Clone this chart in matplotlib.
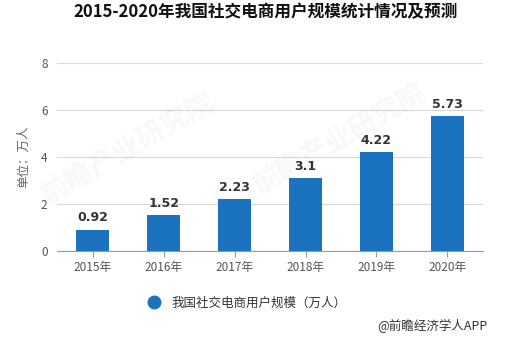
import matplotlib
matplotlib.use("Agg")
import matplotlib.pyplot as plt
from matplotlib.lines import Line2D

plt.rcParams['font.family'] = ['Noto Sans CJK SC', 'DejaVu Sans']

years = ["2015年", "2016年", "2017年", "2018年", "2019年", "2020年"]
users = [0.92, 1.52, 2.23, 3.1, 4.22, 5.73]
value_labels = ["0.92", "1.52", "2.23", "3.1", "4.22", "5.73"]
y_ticks = [0, 2, 4, 6, 8]

title = "2015-2020年我国社交电商用户规模统计情况及预测"
series_name = "我国社交电商用户规模（万人）"
unit_label = "单位：万人"
source = "@前瞻经济学人APP"
watermark = "前瞻产业研究院"

bar_color = "#1b72bf"
tick_color = "#555555"

fig = plt.figure(figsize=(5.3, 3.45), dpi=100)
ax = fig.add_axes([0.108, 0.272, 0.803, 0.545])

x = list(range(len(years)))
ax.bar(x, users, width=0.47, color=bar_color, zorder=3)
for xi, v, lab in zip(x, users, value_labels):
    ax.text(xi, v + 0.22, lab, ha="center", va="bottom", fontsize=9,
            fontweight="bold", color="#333333", family="DejaVu Sans")

ax.set_xlim(-0.5, 5.5)
ax.set_ylim(0, 8)
ax.set_yticks(y_ticks)
ax.set_xticks(x)
ax.set_xticklabels(years)
ax.grid(axis="y", color="#d9d9d9", linewidth=0.8, zorder=0)
for s in ["top", "right", "left"]:
    ax.spines[s].set_visible(False)
ax.spines["bottom"].set_color("#999999")
ax.tick_params(axis="y", length=0, labelsize=8.5, labelcolor=tick_color, pad=7)
ax.tick_params(axis="x", length=4, color="#999999", labelsize=8.5,
               labelcolor=tick_color, pad=3)
ax.set_ylabel(unit_label, fontsize=9, color="#666666", labelpad=8)

fig.text(0.5, 0.965, title, ha="center", va="center", fontsize=12,
         fontweight="bold", color="#111111")

# faint diagonal watermarks
for wx, wy in [(0.24, 0.57), (0.64, 0.60)]:
    fig.text(wx, wy, watermark, ha="center", va="center", fontsize=20,
             rotation=30, color="#000000", alpha=0.03, fontweight="bold",
             zorder=10)

handle = Line2D([], [], marker="o", linestyle="none", markersize=9,
                markerfacecolor=bar_color, markeredgecolor=bar_color)
fig.legend([handle], [series_name], loc="center", bbox_to_anchor=(0.46, 0.122),
           frameon=False, fontsize=9, handletextpad=0.4, labelcolor="#333333")

fig.text(0.92, 0.055, source, ha="right", va="center", fontsize=9,
         color="#333333")

fig.savefig("out.png", dpi=100, facecolor="white")
